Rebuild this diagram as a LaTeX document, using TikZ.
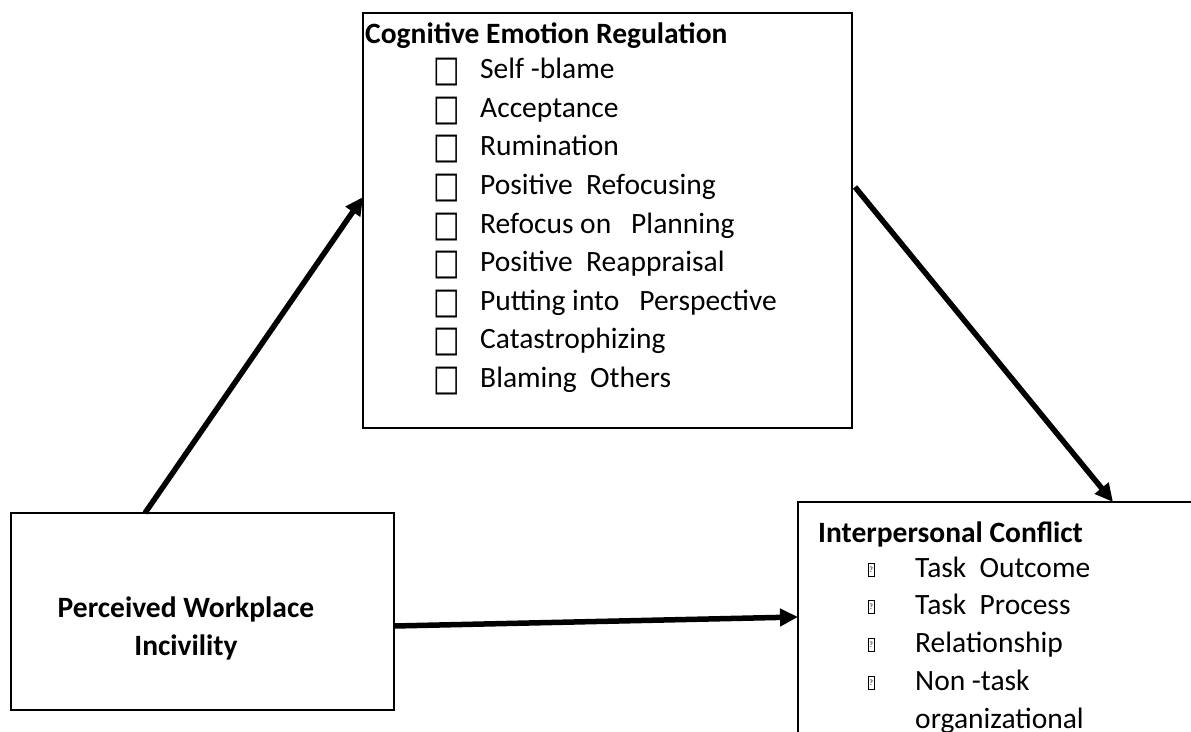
\documentclass[tikz,border=0pt]{standalone}
\usepackage{fontspec}
\setmainfont{Carlito}
\newfontfamily\symbolfont{DejaVu Sans}
\usetikzlibrary{arrows.meta}
\newcommand{\checkbox}{\scalebox{1}[1.3]{□}}
\tikzstyle{box}=[draw, line width=2pt, inner sep=0, outer sep=0, rectangle]
\tikzstyle{heading}=[anchor=base west, inner sep=0, font=\fontsize{29.5}{34}\selectfont\bfseries]
\tikzstyle{item}=[anchor=base west, inner sep=0, font=\fontsize{29.5}{34}\selectfont]
\tikzstyle{tick}=[anchor=base west, inner sep=0, font=\fontsize{28}{30}\symbolfont]
\tikzstyle{tofu}=[draw, line width=0.6pt, inner sep=0, minimum width=6pt, minimum height=13pt, anchor=south west, font=\fontsize{8}{9}\selectfont]
\tikzstyle{link}=[line width=5.5pt, -{Triangle[length=18pt, width=17pt]}]

\begin{document}
\begin{tikzpicture}[x=1pt, y=-1pt]
        \clip (0,0) rectangle (1191,731);
        \fill[white] (0,0) rectangle (1191,731);
        % boxes
        \node[box, minimum width=489pt, minimum height=415pt] (cer) at (607.5,220.5) {};
        \node[box, minimum width=383pt, minimum height=197pt] (pwi) at (202.5,611.5) {};
        \node[box, minimum width=452pt, minimum height=298pt] (ic)  at (1024,651) {};
        % mediator
        \node[heading] (cert) at (365,43) {Cognitive Emotion Regulation};
        \node[tick] (c1) at (433,81) {\checkbox};
        \node[tick] (c2) at (433,120) {\checkbox};
        \node[tick] (c3) at (433,158) {\checkbox};
        \node[tick] (c4) at (433,197) {\checkbox};
        \node[tick] (c5) at (433,236) {\checkbox};
        \node[tick] (c6) at (433,274) {\checkbox};
        \node[tick] (c7) at (433,313) {\checkbox};
        \node[tick] (c8) at (433,351) {\checkbox};
        \node[tick] (c9) at (433,390) {\checkbox};
        \node[item] (e1) at (480,78)  {Self -blame};
        \node[item] (e2) at (480,117) {Acceptance};
        \node[item] (e3) at (480,155) {Rumination};
        \node[item] (e4) at (480,194) {Positive~ Refocusing};
        \node[item] (e5) at (480,233) {Refocus on~~ Planning};
        \node[item] (e6) at (480,271) {Positive~ Reappraisal};
        \node[item] (e7) at (480,310) {Putting into~~ Perspective};
        \node[item] (e8) at (480,348) {Catastrophizing};
        \node[item] (e9) at (480,387) {Blaming~ Others};
        % predictor
        \node[align=center, inner sep=0, font=\fontsize{29.5}{38}\selectfont\bfseries] (pwit) at (186,628) {Perceived Workplace\\Incivility};
        % outcome
        \node[heading] (ict) at (818,542) {Interpersonal Conflict};
        \node[tofu] (b1) at (868,577) {?};
        \node[tofu] (b2) at (868,614) {?};
        \node[tofu] (b3) at (868,652) {?};
        \node[tofu] (b4) at (868,690) {?};
        \node[item] (i1) at (915,577) {Task~ Outcome};
        \node[item] (i2) at (915,614) {Task~ Process};
        \node[item] (i3) at (915,652) {Relationship};
        \node[item] (i4) at (915,690) {Non -task};
        \node[item] (i5) at (915,728) {organizational};
        % paths
        \draw[link] ([xshift=134pt]pwi.north west) -- ([yshift=-184pt]cer.north west);
        \draw[link] ([xshift=3pt, yshift=-174pt]cer.north east) -- ([xshift=315pt]ic.north west);
        \draw[link] ([yshift=-14.5pt]pwi.east) -- ([yshift=-115pt]ic.north west);
    \end{tikzpicture}
\end{document}
